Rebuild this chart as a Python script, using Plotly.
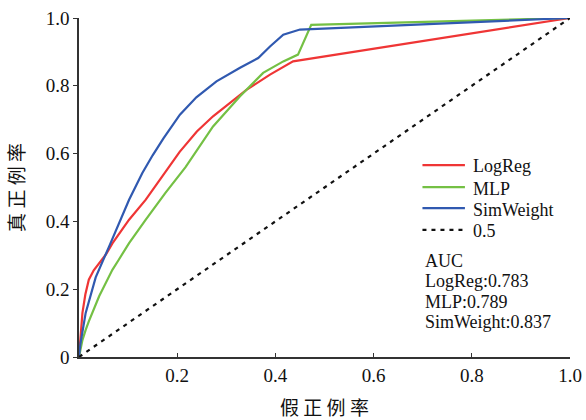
import plotly.graph_objects as go

# ROC curve data
logreg_fpr = [0.0, 0.003, 0.007, 0.013, 0.02, 0.03, 0.041, 0.055, 0.068, 0.085, 0.102, 0.136, 0.17, 0.205, 0.24, 0.273, 0.341, 0.389, 0.436, 1.0]
logreg_tpr = [0.0, 0.07, 0.13, 0.185, 0.228, 0.256, 0.277, 0.303, 0.335, 0.37, 0.405, 0.464, 0.533, 0.605, 0.665, 0.71, 0.788, 0.833, 0.872, 1.0]

mlp_fpr = [0.0, 0.007, 0.0136, 0.02, 0.041, 0.068, 0.081, 0.102, 0.136, 0.176, 0.217, 0.273, 0.328, 0.375, 0.416, 0.446, 0.473, 1.0]
mlp_tpr = [0.0, 0.05, 0.08, 0.105, 0.179, 0.257, 0.287, 0.336, 0.405, 0.484, 0.56, 0.68, 0.769, 0.838, 0.872, 0.892, 0.98, 1.0]

sim_fpr = [0.0, 0.003, 0.0136, 0.034, 0.061, 0.081, 0.102, 0.129, 0.15, 0.172, 0.2055, 0.239, 0.28, 0.328, 0.365, 0.389, 0.416, 0.45, 0.511, 1.0]
sim_tpr = [0.0, 0.04, 0.13, 0.235, 0.325, 0.395, 0.464, 0.543, 0.595, 0.645, 0.715, 0.766, 0.813, 0.853, 0.882, 0.916, 0.951, 0.966, 0.97, 1.0]

chance_fpr = [0.0, 1.0]
chance_tpr = [0.0, 1.0]

series_names = ["LogReg", "MLP", "SimWeight", "0.5"]
auc_title = "AUC"
auc_labels = ["LogReg:0.783", "MLP:0.789", "SimWeight:0.837"]

x_tickvals = [0.2, 0.4, 0.6, 0.8, 1.0]
x_ticktext = ["0.2", "0.4", "0.6", "0.8", "1.0"]
y_tickvals = [0, 0.2, 0.4, 0.6, 0.8, 1.0]
y_ticktext = ["0", "0.2", "0.4", "0.6", "0.8", "1.0"]

serif = "Liberation Serif, Times New Roman, serif"
cjk = "Noto Sans CJK SC"
text_color = "#111111"

styles = [
    dict(color="#ef3535", width=2.2),
    dict(color="#74c044", width=2.2),
    dict(color="#3059b0", width=2.2),
    dict(color="#111111", width=2.2, dash="4px,5px"),
]
xs = [logreg_fpr, mlp_fpr, sim_fpr, chance_fpr]
ys = [logreg_tpr, mlp_tpr, sim_tpr, chance_tpr]

fig = go.Figure()
for name, x, y, st in zip(series_names, xs, ys, styles):
    fig.add_trace(go.Scatter(x=x, y=y, mode="lines", name=name, line=st, showlegend=False))

# Legend drawn in paper coordinates (line sample + label per series)
leg_x0, leg_x1, leg_tx = 0.6995, 0.786, 0.798
leg_rows = [0.566, 0.501, 0.439, 0.375]
for name, st, ry in zip(series_names, styles, leg_rows):
    fig.add_shape(type="line", xref="paper", yref="paper", x0=leg_x0, x1=leg_x1, y0=ry, y1=ry,
                  line=st)
    fig.add_annotation(x=leg_tx, y=ry - 0.004, xref="paper", yref="paper", xanchor="left",
                       yanchor="middle", showarrow=False, text=name,
                       font=dict(family=serif, size=18, color=text_color))

auc_rows = [0.283, 0.224, 0.161, 0.102]
for txt, ry in zip([auc_title] + auc_labels, auc_rows):
    fig.add_annotation(x=0.7006, y=ry, xref="paper", yref="paper", xanchor="left",
                       yanchor="middle", showarrow=False, text=txt,
                       font=dict(family=serif, size=18, color=text_color))

fig.update_layout(
    width=586, height=420,
    margin=dict(l=79, r=16, t=18, b=63),
    paper_bgcolor="white", plot_bgcolor="white",
    font=dict(family=serif, size=19, color=text_color),
    showlegend=False,
    xaxis=dict(range=[0, 1], showgrid=False, zeroline=False, showline=True, automargin=False,
               linecolor="#333333", linewidth=1.5, ticks="inside", ticklen=4,
               tickcolor="#333333", tickvals=x_tickvals, ticktext=x_ticktext,
               tickfont=dict(family=serif, size=19), ticklabeloverflow="allow",
               title=dict(text="假 正 例 率", font=dict(family=cjk, size=19), standoff=18)),
    yaxis=dict(range=[0, 1], showgrid=False, zeroline=False, showline=True, automargin=False,
               linecolor="#333333", linewidth=1.5, ticks="outside", ticklen=4,
               tickcolor="#333333", tickvals=y_tickvals, ticktext=y_ticktext,
               tickfont=dict(family=serif, size=19), ticklabeloverflow="allow",
               title=dict(text="真 正 例 率", font=dict(family=cjk, size=19), standoff=16)),
)

# The page's default 8px body margin would shift the figure; remove it.
fig.write_html("out.html", config={"displayModeBar": False},
               post_script="document.body.style.margin='0px';")
